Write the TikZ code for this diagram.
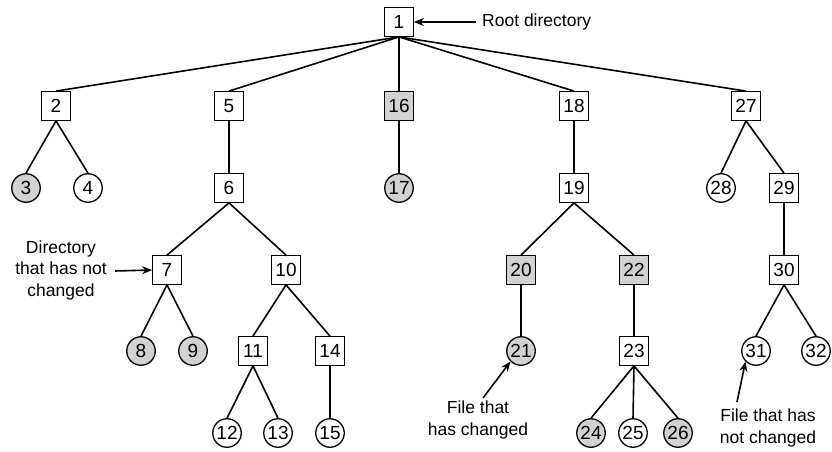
\documentclass[tikz,border=0pt]{standalone}
\usepackage{fontspec}
\setmainfont{Liberation Sans}
\usetikzlibrary{arrows.meta}
\definecolor{chg}{RGB}{210,210,210}
\tikzset{
  dir/.style={draw, line width=1.3pt, minimum size=28.5pt, inner sep=0pt, fill=white, font=\fontsize{19}{20}\selectfont},
  fil/.style={draw, circle, line width=1.3pt, minimum size=28.5pt, inner sep=0pt, fill=white, font=\fontsize{19}{20}\selectfont},
  changed/.style={fill=chg},
  edge/.style={line width=1.6pt},
  lbl/.style={align=center, font=\fontsize{17.5}{21.5}\selectfont, inner sep=0pt},
  pointer/.style={line width=1.6pt, -{Stealth[length=10pt,width=8pt]}}
}
\begin{document}
\begin{tikzpicture}[x=1pt,y=-1pt]
\useasboundingbox (0,0) rectangle (832,452);
% row 1
\node[dir] (n1) at (399,22) {1};
% row 2
\node[dir] (n2) at (56,106) {2};
\node[dir] (n5) at (229,106) {5};
\node[dir,changed] (n16) at (399,106) {16};
\node[dir] (n18) at (574,106) {18};
\node[dir] (n27) at (746,106) {27};
% row 3
\node[fil,changed] (n3) at (26,188) {3};
\node[fil] (n4) at (88,188) {4};
\node[dir] (n6) at (229,188) {6};
\node[fil,changed] (n17) at (399,188) {17};
\node[dir] (n19) at (574,188) {19};
\node[fil] (n28) at (721,188) {28};
\node[dir] (n29) at (784,188) {29};
% row 4
\node[dir] (n7) at (167,270) {7};
\node[dir] (n10) at (286,270) {10};
\node[dir,changed] (n20) at (521,270) {20};
\node[dir,changed] (n22) at (634,270) {22};
\node[dir] (n30) at (784,270) {30};
% row 5
\node[fil,changed] (n8) at (141,351) {8};
\node[fil,changed] (n9) at (193,351) {9};
\node[dir] (n11) at (253,351) {11};
\node[dir] (n14) at (330,351) {14};
\node[fil,changed] (n21) at (521,351) {21};
\node[dir] (n23) at (634,351) {23};
\node[fil] (n31) at (756,351) {31};
\node[fil] (n32) at (816,351) {32};
% row 6
\node[fil] (n12) at (227,433) {12};
\node[fil] (n13) at (278,433) {13};
\node[fil] (n15) at (330,433) {15};
\node[fil,changed] (n24) at (591,433) {24};
\node[fil] (n25) at (633,433) {25};
\node[fil,changed] (n26) at (678,433) {26};
% edges
\foreach \p/\c in {n1/n2,n1/n5,n1/n16,n1/n18,n1/n27,
  n2/n3,n2/n4,n5/n6,n16/n17,n18/n19,n27/n28,n27/n29,
  n6/n7,n6/n10,n19/n20,n19/n22,n29/n30,
  n7/n8,n7/n9,n10/n11,n10/n14,n20/n21,n22/n23,n30/n31,n30/n32,
  n11/n12,n11/n13,n14/n15,n23/n24,n23/n25,n23/n26}
  \draw[edge] (\p.south) -- (\c.north);
% labels
\node[lbl, anchor=west] (lroot) at (482,22) {Root directory};
\coordinate (a1) at (476,22);
\draw[pointer] (a1) -- (n1.east);
\node[lbl] (ldir) at (61,270) {Directory\\that has not\\changed};
\coordinate (a2) at (115,271);
\draw[pointer] (a2) -- (n7.west);
\node[lbl] (lfc) at (478,420) {File that\\has changed};
\coordinate (a3) at (483,398);
\draw[pointer] (a3) -- (n21.south west);
\node[lbl] (lfn) at (768,428) {File that has\\not changed};
\coordinate (a4) at (737,402);
\draw[pointer] (a4) -- (n31.south west);
\end{tikzpicture}
\end{document}
